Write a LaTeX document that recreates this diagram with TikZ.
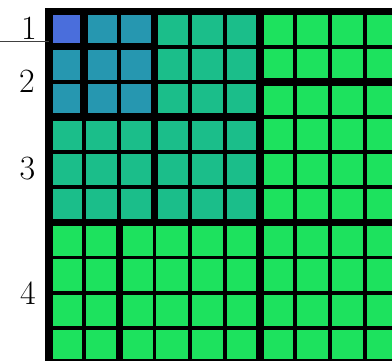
\documentclass[tikz,border=0pt]{standalone}
\definecolor{lvA}{HTML}{4A6EDC}
\definecolor{lvB}{HTML}{2697B0}
\definecolor{lvC}{HTML}{1BBE8A}
\definecolor{lvD}{HTML}{1DE25E}
\begin{document}
\begin{tikzpicture}[x=1pt,y=-1pt,
  thinline/.style={line width=3.8pt,black},
  thickline/.style={line width=7.5pt,black,line cap=rect},
  lbl/.style={font=\fontsize{34}{34}\selectfont, inner sep=0pt},
  rule/.style={line width=0.8pt,black!75}]
\useasboundingbox (0,0) rectangle (392,361);
\clip (0,0) rectangle (392,361);
\fill[white] (0,0) rectangle (392,361);
\begin{scope}[shift={(49,11.5)},x=35.15pt,y=-35.15pt]
  \fill[lvD] (0,0) rectangle (10,10);
  \fill[lvC] (0,0) rectangle (6,6);
  \fill[lvB] (0,0) rectangle (3,3);
  \fill[lvA] (0,0) rectangle (1,1);
  \foreach \i in {1,...,9} {
    \draw[thinline] (\i,0) -- (\i,10);
    \draw[thinline] (0,\i) -- (10,\i);
  }
  % frame
  \draw[thickline] (0,0) rectangle (10,10);
  % vertical thick segments
  \draw[thickline] (1,0) -- (1,3);
  \draw[thickline] (3,0) -- (3,6);
  \draw[thickline] (2,6) -- (2,10);
  \draw[thickline] (6,0) -- (6,10);
  % horizontal thick segments
  \draw[thickline] (0,1) -- (3,1);
  \draw[thickline] (0,3) -- (6,3);
  \draw[thickline] (6,2) -- (10,2);
  \draw[thickline] (0,6) -- (10,6);
  \coordinate (frameL) at (0,0.84);
\end{scope}
\coordinate (ruleS) at (0,41);
\draw[rule] (ruleS) -- (ruleS -| frameL);
\node[lbl] (l1) at (29,28) {1};
\node[lbl] (l2) at (27,81) {2};
\node[lbl] (l3) at (27.5,169) {3};
\node[lbl] (l4) at (28,293) {4};
\end{tikzpicture}
\end{document}
